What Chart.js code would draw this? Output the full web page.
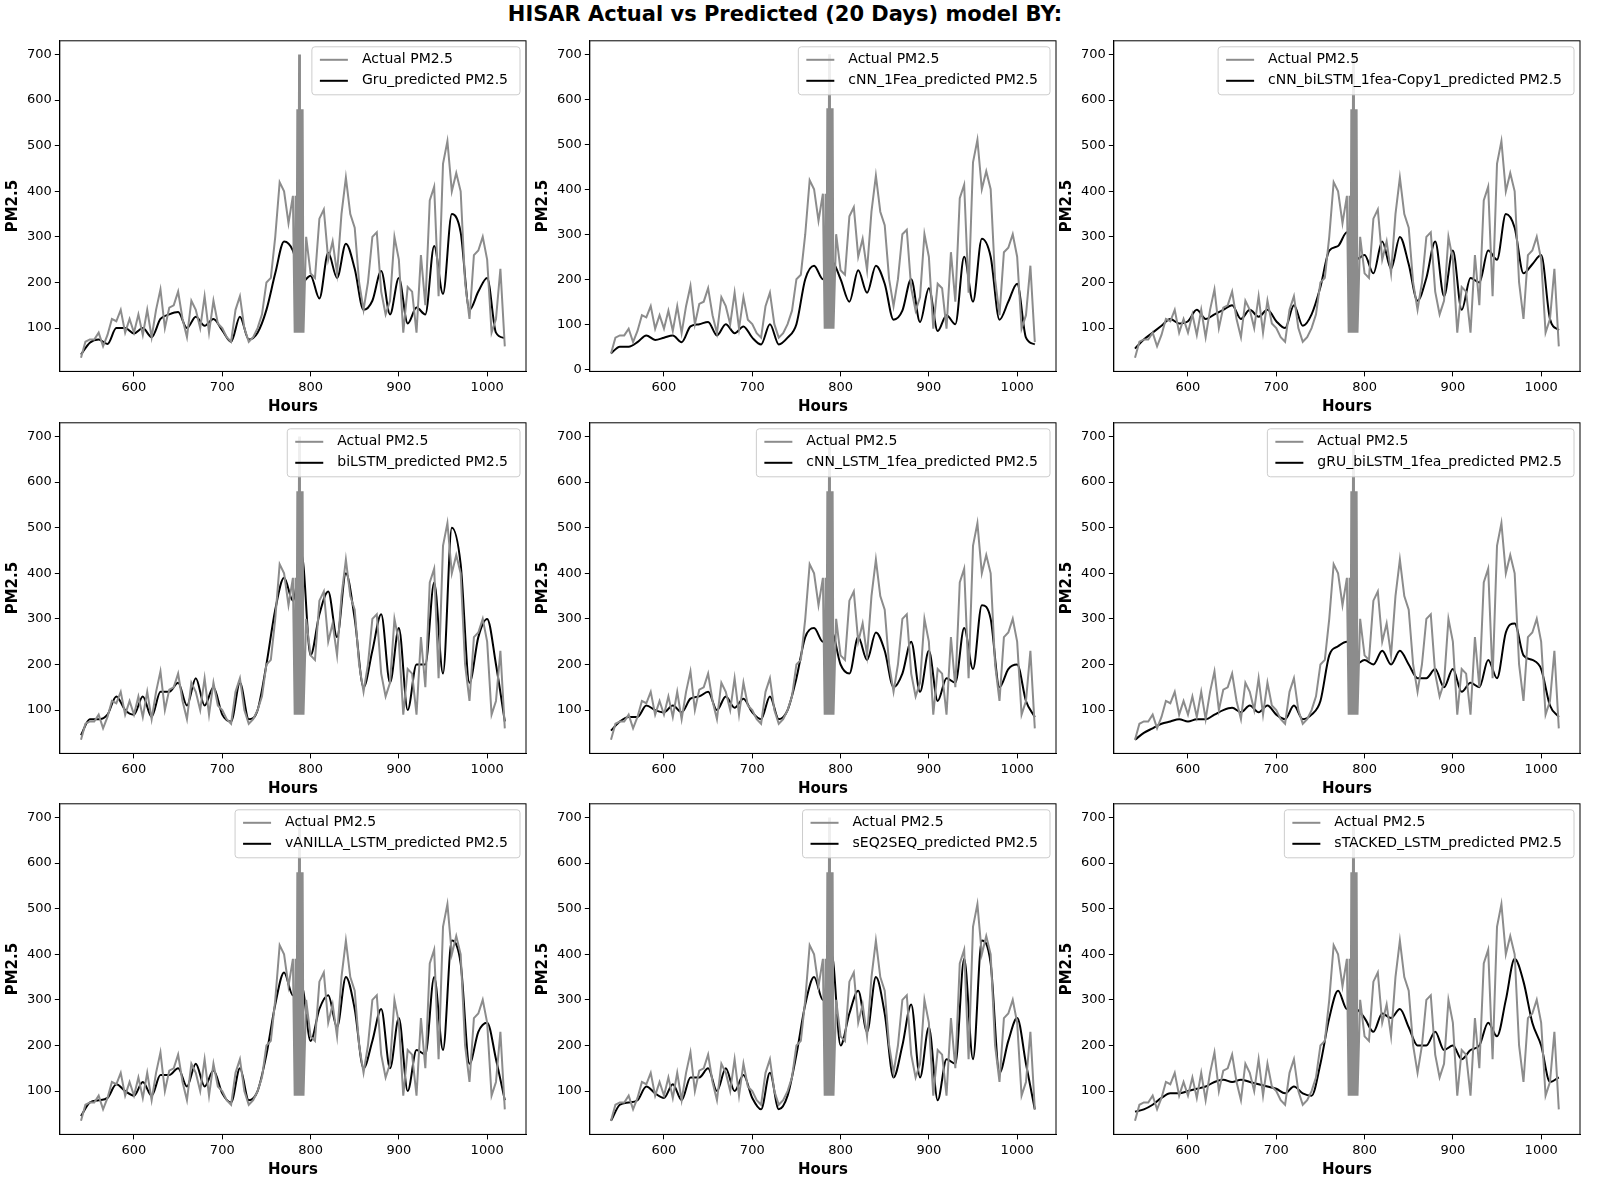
<!DOCTYPE html>
<html><head><meta charset="utf-8">
<script src="https://cdn.jsdelivr.net/npm/chart.js@4.4.0/dist/chart.umd.min.js"></script>
<style>
body{margin:0;background:#fff;font-family:"DejaVu Sans",sans-serif;}
#title{position:absolute;top:2px;left:0;width:1570px;text-align:center;font-weight:bold;font-size:21px;}
.cell{position:absolute;width:528px;height:390px;}
</style></head><body>
<div id="title">HISAR Actual vs Predicted (20 Days) model BY:</div>
<div id="grid"></div>
<script>
const actualHours=[540,545,550,555,560,565,570,575,580,585,590,595,600,605,610,615,620,625,630,635,640,645,650,655,660,665,670,675,680,685,690,695,700,705,710,715,720,725,730,735,740,745,750,755,760,765,770,775,780,782,783,784,785,786,787,788,789,790,791,792,795,800,805,810,815,820,825,830,835,840,845,850,855,860,865,870,875,880,885,890,895,900,905,910,915,920,925,930,935,940,945,950,955,960,965,970,975,980,985,990,995,1000,1005,1010,1015,1020];
const actualValues=[35,70,75,75,90,60,85,120,115,140,90,120,90,130,85,140,80,140,185,100,145,150,180,120,80,160,140,100,170,90,160,110,100,80,70,140,170,100,70,80,100,130,200,210,300,420,400,330,390,90,390,90,580,90,700,90,580,90,580,90,300,220,210,340,360,250,290,220,350,430,350,320,200,140,200,300,310,180,130,160,300,250,90,190,180,90,260,150,380,410,170,460,510,400,440,400,200,120,260,270,300,250,90,120,230,60];
const predHours=[540,550,560,570,580,590,600,610,620,630,640,650,660,670,680,690,700,710,720,730,740,750,760,770,780,790,800,810,820,830,840,850,860,870,880,890,900,910,920,930,940,950,960,970,980,990,1000,1010,1020];
const gruPred=[42,68,75,65,100,100,88,100,80,120,130,135,100,125,105,120,95,70,125,75,90,140,220,290,270,200,215,165,265,210,285,230,140,160,225,130,210,110,145,130,280,175,350,310,140,180,210,90,78];
const cnn1FeaPred=[35,50,50,60,75,65,70,75,60,95,100,105,75,100,80,95,70,55,100,55,70,100,200,230,200,240,200,150,220,170,230,190,110,130,200,105,180,85,120,100,250,150,290,250,110,150,190,70,55];
const cnnBiLstmPred=[55,75,90,105,120,110,115,140,120,130,140,150,120,140,125,140,115,100,150,105,130,190,270,280,310,250,260,220,290,230,300,240,160,210,290,170,270,140,210,200,270,250,350,320,220,240,260,120,95];
const biLstmPred=[45,80,80,90,130,100,90,130,85,140,140,160,110,170,110,150,90,75,160,80,100,200,320,390,340,440,220,310,360,260,400,300,150,230,310,160,280,100,200,200,380,180,500,420,160,260,300,200,75];
const cnnLstmPred=[55,75,85,85,110,100,95,110,95,125,130,140,100,130,105,125,95,80,130,80,100,170,260,280,250,270,200,180,260,210,270,230,150,180,250,140,230,120,170,160,280,190,330,300,150,190,200,120,85];
const gruBiLstmPred=[35,50,60,70,75,80,75,80,80,90,100,105,95,110,95,110,90,80,110,80,90,120,220,240,250,200,210,200,230,200,230,200,170,170,190,150,190,140,160,150,210,170,270,290,220,210,190,110,85];
const vanillaLstmPred=[45,75,80,85,115,100,90,120,90,135,135,150,110,160,110,145,95,75,150,80,100,180,290,360,310,330,210,280,310,240,350,280,150,210,280,150,260,100,190,180,350,190,430,380,160,230,250,170,80];
const seq2seqPred=[35,70,75,80,110,95,85,115,80,130,130,150,100,150,100,135,85,60,140,60,90,180,290,350,300,400,200,270,320,230,350,270,130,200,290,130,240,80,170,160,390,170,430,380,140,210,260,160,60];
const stackedLstmPred=[55,60,70,85,95,95,100,105,110,120,125,120,125,120,115,110,105,95,110,95,90,160,260,320,280,280,260,230,270,260,280,240,200,200,230,190,200,170,190,200,250,220,300,390,340,250,200,120,130];
const modelNames=["Gru","cNN_1Fea","cNN_biLSTM_1fea-Copy1","biLSTM","cNN_LSTM_1fea","gRU_biLSTM_1fea","vANILLA_LSTM","sEQ2SEQ","sTACKED_LSTM"];
const preds=[gruPred,cnn1FeaPred,cnnBiLstmPred,biLstmPred,cnnLstmPred,gruBiLstmPred,vanillaLstmPred,seq2seqPred,stackedLstmPred];
const xTicks=[600,700,800,900,1000];
const yTicks=[100,200,300,400,500,600,700];

const frame={id:'frame',afterDraw(c){const a=c.chartArea,x=c.ctx;x.save();x.strokeStyle='#000';x.lineWidth=1;x.strokeRect(a.left,a.top,a.right-a.left,a.bottom-a.top);
 const labels=c.data.datasets.map(d=>d.label);x.font='14px "DejaVu Sans"';
 const w=Math.max(...labels.map(l=>x.measureText(l).width))+62,h=48;const lx=a.right-w-6,ly=a.top+6;
 x.fillStyle='rgba(255,255,255,0.85)';x.strokeStyle='#ccc';x.beginPath();x.roundRect(lx,ly,w,h,3);x.fill();x.stroke();
 c.data.datasets.forEach((d,i)=>{const yy=ly+13+i*21;x.strokeStyle=d.borderColor;x.lineWidth=2;x.beginPath();x.moveTo(lx+8,yy);x.lineTo(lx+36,yy);x.stroke();x.fillStyle='#000';x.textBaseline='middle';x.fillText(d.label,lx+50,yy);});
 x.restore();}};

const grid=document.getElementById('grid');
const lefts=[0,530,1054],tops=[30,412,793];
preds.forEach((p,i)=>{
 const d=document.createElement('div');d.className='cell';d.style.left=lefts[i%3]+'px';d.style.top=tops[Math.floor(i/3)]+'px';
 const cv=document.createElement('canvas');cv.width=528;cv.height=390;d.appendChild(cv);grid.appendChild(d);
 const zeroTick=(i===1);
 new Chart(cv,{type:'line',
  data:{datasets:[
   {label:'Actual PM2.5',data:actualHours.map((h,k)=>({x:h,y:actualValues[k]})),borderColor:'#8c8c8c',borderWidth:2,pointRadius:0,tension:0},
   {label:modelNames[i]+'_predicted PM2.5',data:predHours.map((h,k)=>({x:h,y:p[k]})),borderColor:'#000',borderWidth:2,pointRadius:0,cubicInterpolationMode:'monotone'}]},
  options:{responsive:false,animation:false,layout:{padding:{left:0,right:2,top:6,bottom:0}},
   plugins:{legend:{display:false},tooltip:{enabled:false}},
   scales:{
    x:{type:'linear',min:516,max:1044,afterBuildTicks:s=>{s.ticks=xTicks.map(v=>({value:v}));},
       ticks:{color:'#000',font:{size:13,family:'DejaVu Sans'},callback:v=>String(v)},
       grid:{drawOnChartArea:false,drawTicks:true,tickLength:5,color:'#000'},border:{color:'#000'},
       title:{display:true,text:'Hours',color:'#000',font:{size:15,weight:'bold',family:'DejaVu Sans'},padding:{top:0}}},
    y:{min:zeroTick?-5:5,max:730,afterBuildTicks:s=>{s.ticks=(zeroTick?[0,...yTicks]:yTicks).map(v=>({value:v}));},
       ticks:{color:'#000',font:{size:13,family:'DejaVu Sans'},callback:v=>String(v)},
       grid:{drawOnChartArea:false,drawTicks:true,tickLength:5,color:'#000'},border:{color:'#000'},
       title:{display:true,text:'PM2.5',color:'#000',font:{size:15,weight:'bold',family:'DejaVu Sans'},padding:{bottom:2}}}}},
  plugins:[frame]});
});
</script></body></html>
